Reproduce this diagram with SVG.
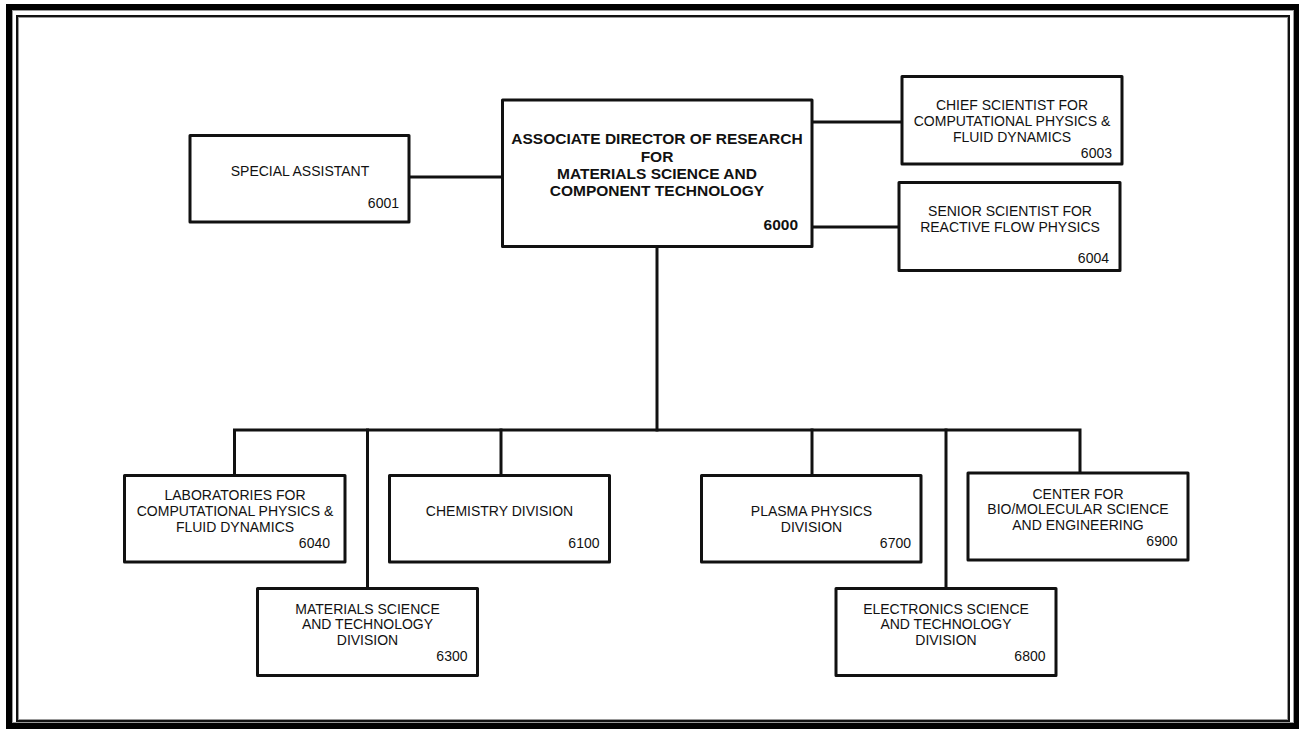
<svg xmlns="http://www.w3.org/2000/svg" width="1299" height="730" viewBox="0 0 1299 730">
<style>
.box{fill:#fff;stroke:#111;stroke-width:3;stroke-linejoin:round}
.c{fill:none;stroke:#111;stroke-width:3;stroke-linecap:square}
text{font-family:"Liberation Sans",Arial,sans-serif;font-size:14px;fill:#111}
.m{text-anchor:middle}
.e{text-anchor:end}
.b{font-weight:bold;font-size:15.5px}
</style>
<rect x="0" y="0" width="1299" height="730" fill="#fff"/>
<g id="frame">
<rect x="9" y="7" width="1288" height="719" fill="none" stroke="#000" stroke-width="6"/>
<rect x="12.5" y="10.5" width="1281" height="712" fill="none" stroke="#999" stroke-width="1"/>
<rect x="17" y="16" width="1272" height="705" fill="none" stroke="#111" stroke-width="2"/>
<rect x="18.5" y="17.5" width="1269" height="702" fill="none" stroke="#999" stroke-width="1"/>
</g>
<g id="connectors">
<line class="c" x1="409" y1="177" x2="503" y2="177"/>
<line class="c" x1="812" y1="122" x2="902" y2="122"/>
<line class="c" x1="812" y1="227" x2="899" y2="227"/>
<line class="c" x1="657" y1="246" x2="657" y2="430"/>
<polyline class="c" points="234.5,475 234.5,430 1080,430 1080,473"/>
<line class="c" x1="367.5" y1="430" x2="367.5" y2="588"/>
<line class="c" x1="501" y1="430" x2="501" y2="475"/>
<line class="c" x1="812" y1="430" x2="812" y2="475"/>
<line class="c" x1="946" y1="430" x2="946" y2="588"/>
</g>
<g id="n6001">
<rect class="box" x="190" y="135.5" width="219" height="86.5"/>
<text class="m" x="300" y="176">SPECIAL ASSISTANT</text>
<text class="e" x="399" y="208">6001</text>
</g>
<g id="n6000">
<rect class="box" x="502.5" y="100" width="309.5" height="146.5"/>
<text class="m b" x="657" y="144">ASSOCIATE DIRECTOR OF RESEARCH</text>
<text class="m b" x="657" y="161.5">FOR</text>
<text class="m b" x="657" y="179">MATERIALS SCIENCE AND</text>
<text class="m b" x="657" y="196">COMPONENT TECHNOLOGY</text>
<text class="e b" x="798" y="230">6000</text>
</g>
<g id="n6003">
<rect class="box" x="902" y="76.5" width="220" height="87.5"/>
<text class="m" x="1012" y="109.5">CHIEF SCIENTIST FOR</text>
<text class="m" x="1012" y="125.5">COMPUTATIONAL PHYSICS &amp;</text>
<text class="m" x="1012" y="141.5">FLUID DYNAMICS</text>
<text class="e" x="1112" y="157.5">6003</text>
</g>
<g id="n6004">
<rect class="box" x="899" y="182.5" width="221" height="88"/>
<text class="m" x="1010" y="215.5">SENIOR SCIENTIST FOR</text>
<text class="m" x="1010" y="231.5">REACTIVE FLOW PHYSICS</text>
<text class="e" x="1109" y="263">6004</text>
</g>
<g id="n6040">
<rect class="box" x="124.5" y="475.5" width="220.5" height="86.5"/>
<text class="m" x="235" y="500">LABORATORIES FOR</text>
<text class="m" x="235" y="516">COMPUTATIONAL PHYSICS &amp;</text>
<text class="m" x="235" y="531.5">FLUID DYNAMICS</text>
<text class="e" x="330" y="548">6040</text>
</g>
<g id="n6100">
<rect class="box" x="389.5" y="475.5" width="220" height="86.5"/>
<text class="m" x="499.5" y="516">CHEMISTRY DIVISION</text>
<text class="e" x="599.5" y="547.5">6100</text>
</g>
<g id="n6300">
<rect class="box" x="257.5" y="588.5" width="220" height="87"/>
<text class="m" x="367.5" y="613.5">MATERIALS SCIENCE</text>
<text class="m" x="367.5" y="629">AND TECHNOLOGY</text>
<text class="m" x="367.5" y="645">DIVISION</text>
<text class="e" x="467.5" y="661">6300</text>
</g>
<g id="n6700">
<rect class="box" x="701.5" y="475.5" width="219.5" height="86.5"/>
<text class="m" x="811.5" y="516">PLASMA PHYSICS</text>
<text class="m" x="811.5" y="531.5">DIVISION</text>
<text class="e" x="911" y="547.5">6700</text>
</g>
<g id="n6800">
<rect class="box" x="836" y="588.5" width="220" height="87"/>
<text class="m" x="946" y="613.5">ELECTRONICS SCIENCE</text>
<text class="m" x="946" y="629">AND TECHNOLOGY</text>
<text class="m" x="946" y="645">DIVISION</text>
<text class="e" x="1045.5" y="661">6800</text>
</g>
<g id="n6900">
<rect class="box" x="968" y="473" width="220" height="87"/>
<text class="m" x="1078" y="498.5">CENTER FOR</text>
<text class="m" x="1078" y="514">BIO/MOLECULAR SCIENCE</text>
<text class="m" x="1078" y="530">AND ENGINEERING</text>
<text class="e" x="1177.5" y="545.5">6900</text>
</g>
</svg>
